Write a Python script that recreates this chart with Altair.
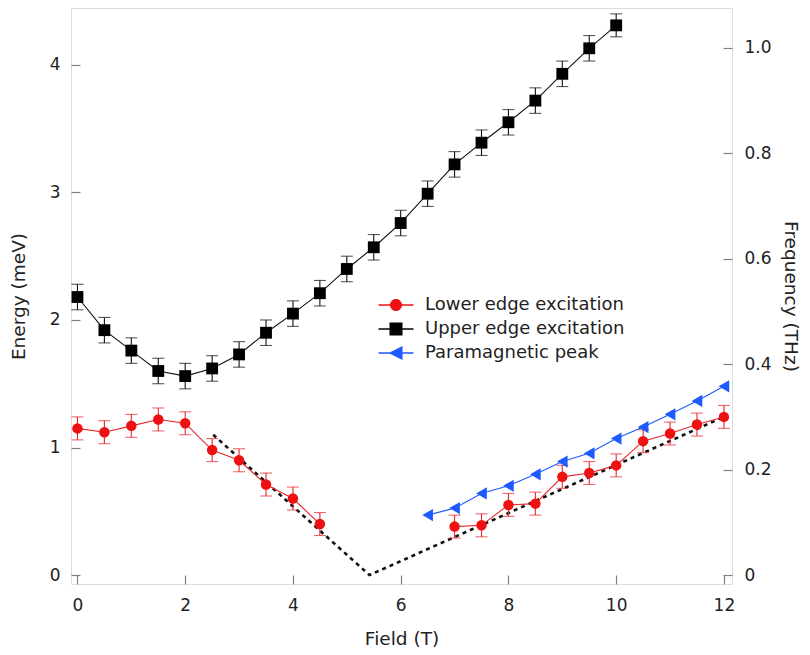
import altair as alt
import pandas as pd

# ---------------- data ----------------
field_upper = [0, 0.5, 1, 1.5, 2, 2.5, 3, 3.5, 4, 4.5, 5, 5.5, 6, 6.5, 7, 7.5, 8, 8.5, 9, 9.5, 10]
energy_upper = [2.18, 1.92, 1.76, 1.60, 1.56, 1.62, 1.73, 1.90, 2.05, 2.21, 2.40, 2.57,
                2.76, 2.99, 3.22, 3.39, 3.55, 3.72, 3.93, 4.13, 4.31]
err_upper = [0.10, 0.10, 0.10, 0.10, 0.10, 0.10, 0.10, 0.10, 0.10, 0.10, 0.10, 0.10,
             0.10, 0.10, 0.10, 0.10, 0.10, 0.10, 0.10, 0.10, 0.09]

field_lower = [0, 0.5, 1, 1.5, 2, 2.5, 3, 3.5, 4, 4.5, 7, 7.5, 8, 8.5, 9, 9.5, 10, 10.5, 11, 11.5, 12]
energy_lower = [1.15, 1.12, 1.17, 1.22, 1.19, 0.98, 0.90, 0.71, 0.60, 0.40,
                0.38, 0.39, 0.55, 0.56, 0.77, 0.80, 0.86, 1.05, 1.11, 1.18, 1.24]
err_lower = [0.09] * 21
segment_lower = ["a"] * 10 + ["b"] * 11

field_para = [6.5, 7, 7.5, 8, 8.5, 9, 9.5, 10, 10.5, 11, 11.5, 12]
energy_para = [0.47, 0.525, 0.64, 0.70, 0.79, 0.89, 0.955, 1.07, 1.16, 1.26, 1.365, 1.48]

field_dash = [2.52, 5.42, 12]
energy_dash = [1.10, 0.0, 1.24]

series_names = ["Lower edge excitation", "Upper edge excitation", "Paramagnetic peak"]
series_colors = ["#ee1111", "#000000", "#1e5bff"]

MEV_TO_THZ = 0.2418

# ---------------- frames ----------------
upper = pd.DataFrame({"field": field_upper, "energy": energy_upper, "err": err_upper})
upper["lo"] = upper["energy"] - upper["err"]
upper["hi"] = upper["energy"] + upper["err"]
upper["freq"] = upper["energy"] * MEV_TO_THZ

lower = pd.DataFrame({"field": field_lower, "energy": energy_lower, "err": err_lower, "seg": segment_lower})
lower["lo"] = lower["energy"] - lower["err"]
lower["hi"] = lower["energy"] + lower["err"]

para = pd.DataFrame({"field": field_para, "energy": energy_para})
dash = pd.DataFrame({"field": field_dash, "energy": energy_dash})
legend_df = pd.DataFrame({"series": series_names})

FONT = "DejaVu Sans"
TXT = "#222222"
GRAY = "#808080"

xdom = [-0.12, 12.15]
ydom = [-0.07, 4.446]
fdom = [ydom[0] * MEV_TO_THZ, ydom[1] * MEV_TO_THZ]

xscale = alt.Scale(domain=xdom, nice=False, zero=False)
yscale = alt.Scale(domain=ydom, nice=False, zero=False)

common = dict(offset=-9, tickSize=9, domain=False, grid=False,
              labelFontSize=17, titleFontSize=18.5, titleFontWeight="normal",
              labelFont=FONT, titleFont=FONT, labelColor=TXT, titleColor=TXT,
              tickColor=GRAY, tickWidth=1.2, labelFlush=False)

x_axis = alt.Axis(title="Field (T)", values=[0, 2, 4, 6, 8, 10, 12],
                  labelPadding=13, titlePadding=16, **common)
y_axis = alt.Axis(title="Energy (meV)", values=[0, 1, 2, 3, 4],
                  labelPadding=11, titlePadding=21, **common)
f_axis = alt.Axis(title="Frequency (THz)", orient="right", values=[0, 0.2, 0.4, 0.6, 0.8, 1.0],
                  labelExpr="datum.value == 0 ? '0' : format(datum.value, '.1f')",
                  labelPadding=12, titlePadding=9, **common)

X = alt.X("field:Q", scale=xscale, axis=x_axis)
Y = alt.Y("energy:Q", scale=yscale, axis=y_axis)
YLO = alt.Y("lo:Q", scale=yscale, axis=y_axis)
YHI = alt.Y("hi:Q", scale=yscale, axis=y_axis)

# dashed guide
dash_line = alt.Chart(dash).mark_line(color="#111111", strokeWidth=2.6, strokeDash=[4, 4]).encode(x=X, y=Y)

# upper edge
up_rule = alt.Chart(upper).mark_rule(color="#111111", strokeWidth=1.1).encode(x=X, y=YLO, y2="hi:Q")
up_cap_lo = alt.Chart(upper).mark_tick(color="#111111", orient="horizontal", size=12, thickness=1.1).encode(x=X, y=YLO)
up_cap_hi = alt.Chart(upper).mark_tick(color="#111111", orient="horizontal", size=12, thickness=1.1).encode(x=X, y=YHI)
up_line = alt.Chart(upper).mark_line(color="#111111", strokeWidth=1.1).encode(x=X, y=Y)
up_pts = alt.Chart(upper).mark_point(shape="square", filled=True, color="#000000", size=140, opacity=1).encode(x=X, y=Y)

# lower edge
lo_rule = alt.Chart(lower).mark_rule(color="#e8262b", strokeWidth=1.1).encode(x=X, y=YLO, y2="hi:Q")
lo_cap_lo = alt.Chart(lower).mark_tick(color="#e8262b", orient="horizontal", size=12, thickness=1.1).encode(x=X, y=YLO)
lo_cap_hi = alt.Chart(lower).mark_tick(color="#e8262b", orient="horizontal", size=12, thickness=1.1).encode(x=X, y=YHI)
lo_line = alt.Chart(lower).mark_line(color="#e8262b", strokeWidth=1.1).encode(x=X, y=Y, detail="seg:N")
lo_pts = alt.Chart(lower).mark_point(shape="circle", filled=True, color="#ee1111", size=110, opacity=1).encode(x=X, y=Y)

# paramagnetic
pa_line = alt.Chart(para).mark_line(color="#1e5bff", strokeWidth=1.1).encode(x=X, y=Y)
pa_pts = alt.Chart(para).mark_point(shape="triangle-left", filled=True, color="#1e5bff", size=150, opacity=1).encode(x=X, y=Y)

# legend (custom line+marker symbols)
sym_circle = ("M-3.5,-0.14H-1V0.14H-3.5Z M1,-0.14H3.5V0.14H1Z "
              "M-1.2,0A1.2,1.2 0 1,1 1.2,0A1.2,1.2 0 1,1 -1.2,0Z")
sym_square = ("M-3.5,-0.14H-1V0.14H-3.5Z M1,-0.14H3.5V0.14H1Z "
              "M-1.3,-1.3H1.3V1.3H-1.3Z")
sym_tri = ("M-3.5,-0.14H-1V0.14H-3.5Z M1,-0.14H3.5V0.14H1Z "
           "M-1.5,0L1.3,-1.4L1.3,1.4Z")
leg = alt.Legend(title=None, orient="none", legendX=316, legendY=288, symbolSize=100,
                 symbolOpacity=1, labelFontSize=18, labelFont=FONT, labelColor=TXT,
                 labelOffset=20, rowPadding=6, symbolStrokeWidth=0, labelLimit=0)
legend_layer = alt.Chart(legend_df).mark_point(filled=True, opacity=0, size=1).encode(
    x=alt.value(0),
    y=alt.value(0),
    color=alt.Color("series:N", scale=alt.Scale(domain=series_names, range=series_colors), legend=leg),
    shape=alt.Shape("series:N", scale=alt.Scale(domain=series_names, range=[sym_circle, sym_square, sym_tri]), legend=leg),
)

left = alt.layer(dash_line, up_rule, up_cap_lo, up_cap_hi, up_line, up_pts,
                 lo_rule, lo_cap_lo, lo_cap_hi, lo_line, lo_pts,
                 pa_line, pa_pts, legend_layer)

right = alt.Chart(upper).mark_point(opacity=0).encode(
    x=X, y=alt.Y("freq:Q", scale=alt.Scale(domain=fdom, nice=False, zero=False), axis=f_axis))

chart = alt.layer(left, right).resolve_scale(y="independent").properties(
    width=661, height=576,
    autosize=alt.AutoSizeParams(type="none"),
    padding={"left": 63, "top": 0, "right": 70, "bottom": 63},
).configure_view(stroke=GRAY, strokeWidth=1.3).configure(font=FONT)

chart.save("out.html", embed_options={"renderer": "svg", "actions": False})
